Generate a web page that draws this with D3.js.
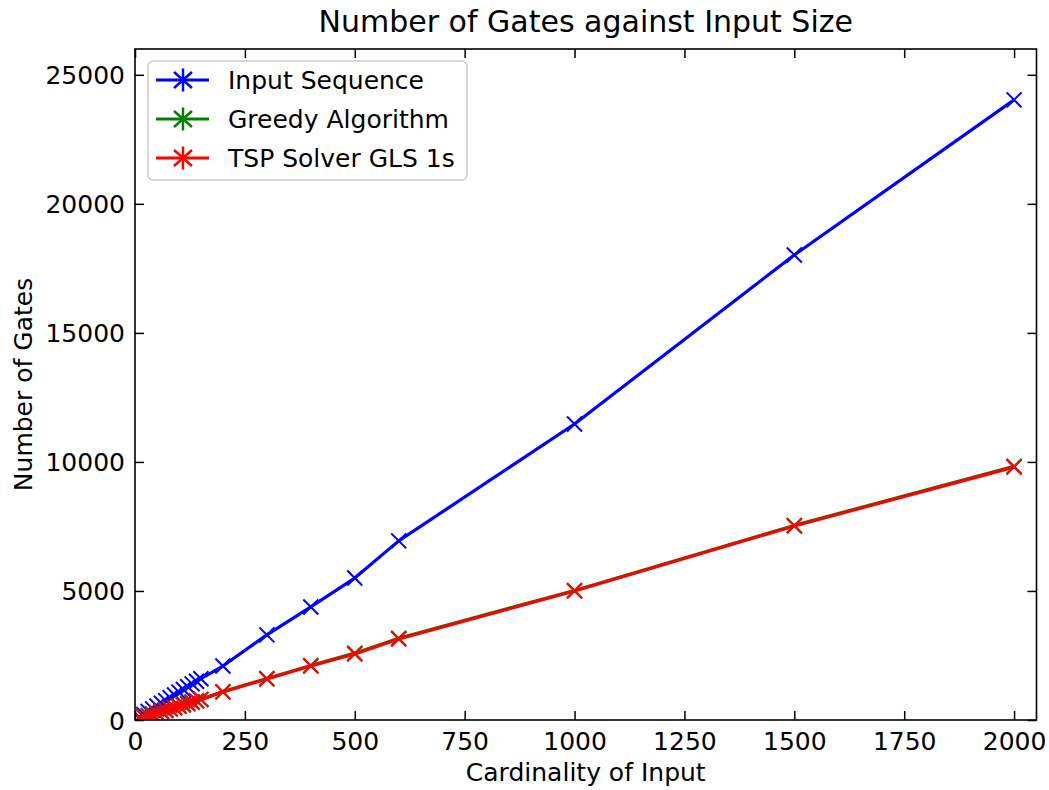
<!DOCTYPE html>
<html><head><meta charset="utf-8">
<script src="https://cdn.jsdelivr.net/npm/d3@7"></script>
<style>body{margin:0;background:#fff}svg{display:block}text{font-family:"DejaVu Sans",sans-serif}</style>
</head><body>
<script>
const cardinality = [10,20,30,40,50,60,70,80,90,100,110,120,130,140,150,200,300,400,500,600,1000,1500,2000];
const inputSequence = [110,215,330,430,540,650,750,860,970,1080,1180,1290,1400,1500,1600,2090,3300,4380,5500,6940,11470,18020,24030];
const greedyAlgorithm = [70,125,175,230,280,335,385,440,490,545,595,645,700,750,805,1100,1610,2110,2590,3170,5020,7540,9830];
const tspSolver = [60,110,160,215,265,320,370,425,475,530,580,630,685,735,790,1085,1590,2090,2560,3140,5000,7520,9800];
const seriesNames = ["Input Sequence","Greedy Algorithm","TSP Solver GLS 1s"];
const seriesColors = ["#0000ff","#008000","#ff0000"];
const xTicks = [0,250,500,750,1000,1250,1500,1750,2000];
const yTicks = [0,5000,10000,15000,20000,25000];

const W=1049,H=790;
const m={left:135,right:1036.5,top:49,bottom:720};
const svg=d3.select("body").append("svg").attr("width",W).attr("height",H);
const x=d3.scaleLinear().domain([0,2051]).range([m.left,m.right]);
const y=d3.scaleLinear().domain([0,26000]).range([m.bottom,m.top]);
const fs=25;

svg.append("text").attr("x",(m.left+m.right)/2).attr("y",32).attr("text-anchor","middle")
  .attr("font-size",30).text("Number of Gates against Input Size");

svg.append("clipPath").attr("id","c").append("rect")
  .attr("x",m.left).attr("y",m.top).attr("width",m.right-m.left).attr("height",m.bottom-m.top);
const plot=svg.append("g").attr("clip-path","url(#c)");
const data=[inputSequence,greedyAlgorithm,tspSolver];
const line=d3.line().x((d,i)=>x(cardinality[i])).y(d=>y(d));
data.forEach((vals,k)=>{
  plot.append("path").datum(vals).attr("d",line).attr("fill","none")
    .attr("stroke",seriesColors[k]).attr("stroke-width",3.2).attr("stroke-linejoin","round");
  const s=7.5;
  plot.append("g").selectAll("path").data(vals).join("path")
    .attr("d",(d,i)=>{const cx=x(cardinality[i]),cy=y(d);
      return `M${cx-s},${cy-s}L${cx+s},${cy+s}M${cx-s},${cy+s}L${cx+s},${cy-s}`;})
    .attr("stroke",seriesColors[k]).attr("stroke-width",2).attr("fill","none");
});

// axes
const tl=9, fmt=d3.format("d");
const xb=d3.axisBottom(x).tickValues(xTicks).tickFormat(fmt).tickSizeInner(-tl).tickSizeOuter(0).tickPadding(12);
const gx=svg.append("g").attr("transform",`translate(0,${m.bottom})`).call(xb);
const xt=d3.axisTop(x).tickValues(xTicks).tickSizeInner(-tl).tickSizeOuter(0).tickFormat("");
const gxt=svg.append("g").attr("transform",`translate(0,${m.top})`).call(xt);
const yl=d3.axisLeft(y).tickValues(yTicks).tickFormat(fmt).tickSizeInner(-tl).tickSizeOuter(0).tickPadding(10);
const gy=svg.append("g").attr("transform",`translate(${m.left},0)`).call(yl);
const yr=d3.axisRight(y).tickValues(yTicks).tickSizeInner(-tl).tickSizeOuter(0).tickFormat("");
const gyr=svg.append("g").attr("transform",`translate(${m.right},0)`).call(yr);
[gx,gxt,gy,gyr].forEach(g=>{
  g.select(".domain").remove();
  g.selectAll(".tick line").attr("stroke","#000").attr("stroke-width",1.5);
  g.selectAll(".tick text").attr("font-size",fs).attr("fill","#000").attr("font-family","DejaVu Sans");
});
gy.selectAll(".tick text").attr("dy","0.36em");
svg.append("rect").attr("x",m.left).attr("y",m.top).attr("width",m.right-m.left).attr("height",m.bottom-m.top)
  .attr("fill","none").attr("stroke","#000").attr("stroke-width",1.6);

svg.append("text").attr("x",(m.left+m.right)/2).attr("y",781).attr("text-anchor","middle")
  .attr("font-size",fs).text("Cardinality of Input");
svg.append("text").attr("transform",`translate(32,${(m.top+m.bottom)/2}) rotate(-90)`).attr("text-anchor","middle")
  .attr("font-size",fs).text("Number of Gates");

// legend
const lg=svg.append("g");
lg.append("rect").attr("x",148).attr("y",61).attr("width",319).attr("height",119).attr("rx",5)
  .attr("fill","#fff").attr("fill-opacity",0.8).attr("stroke","#cccccc").attr("stroke-width",1.5);
seriesNames.forEach((n,k)=>{
  const cy=80+k*39, c=seriesColors[k];
  lg.append("line").attr("x1",156).attr("x2",209).attr("y1",cy).attr("y2",cy).attr("stroke",c).attr("stroke-width",3.2);
  const cx=183;
  lg.append("path").attr("d",`M${cx},${cy-11.5}L${cx},${cy+11.5}M${cx-9},${cy-8}L${cx+9},${cy+8}M${cx-9},${cy+8}L${cx+9},${cy-8}`)
    .attr("stroke",c).attr("stroke-width",2.5);
  lg.append("text").attr("x",228).attr("y",cy).attr("dy","0.36em").attr("font-size",fs).text(n);
});
</script>
</body></html>
